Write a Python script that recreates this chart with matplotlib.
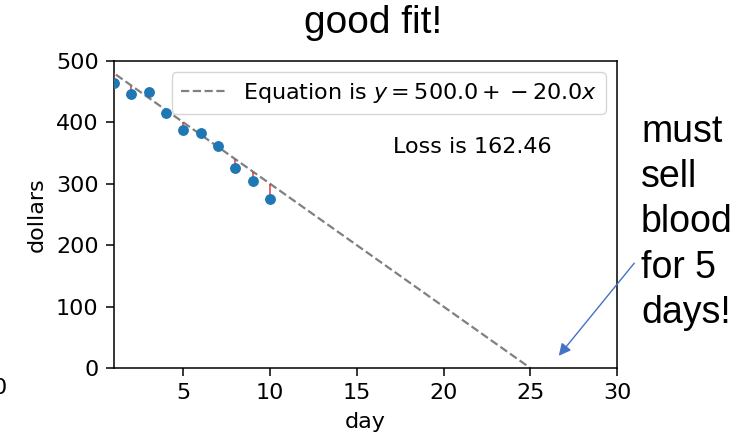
import matplotlib
matplotlib.use("Agg")
import matplotlib.pyplot as plt
import numpy as np

days = [1, 2, 3, 4, 5, 6, 7, 8, 9, 10]
dollars = [464, 446, 450, 416, 387, 382, 362, 326, 305, 275]
intercept = 500.0
slope = -20.0
loss_value = 162.46
title_text = "good fit!"
side_note = "must\nsell\nblood\nfor 5\ndays!"
xticks = [5, 10, 15, 20, 25, 30]
yticks = [0, 100, 200, 300, 400, 500]

S = 1.6
plt.rcParams['font.size'] = 10 * S

fig = plt.figure(figsize=(7.51, 4.37), dpi=100)
ax = fig.add_axes([114/751, 1 - 368/437, (617-114)/751, (368-61)/437])

x = np.array(days)
y = np.array(dollars)
pred = intercept + slope * x

line_x = np.array([0, -intercept / slope])
ax.plot(line_x, intercept + slope * line_x, '--', color='gray', lw=1.6,
        label=f"Equation is $y = {intercept} + {slope}x$", zorder=2)
ax.vlines(x, y, pred, color='tab:red', alpha=0.7, lw=1.4, zorder=3)
ax.scatter(x, y, s=46, color='tab:blue', zorder=4)

ax.set_xlim(1, 30)
ax.set_ylim(0, 500)
ax.set_xticks(xticks)
ax.set_yticks(yticks)
ax.set_xlabel("day", labelpad=4 * S)
ax.set_ylabel("dollars", labelpad=4 * S)
for sp in ax.spines.values():
    sp.set_linewidth(1.1)
ax.tick_params(width=1.1, length=5.5, pad=3.5 * S)
ax.legend(loc='upper right', handlelength=2.0, borderaxespad=0.5)
ax.text(0.712, 0.72, f"Loss is {loss_value}", transform=ax.transAxes,
        ha='center', va='center')

fig.text(373/751, 1 - 33/437, title_text, ha='center', va='baseline',
         fontsize=28, family=['Liberation Sans', 'DejaVu Sans'])
fig.text(641/751, 1 - 114/437, side_note, ha='left', va='top',
         fontsize=27, family=['Liberation Sans', 'DejaVu Sans'], linespacing=1.33)
fig.text(7/751, 1 - 388/437, "0", ha='right', va='center')

fig.patches.append(matplotlib.patches.FancyArrowPatch(
    (636/751, 1 - 261/437), (557/751, 1 - 358/437), transform=fig.transFigure,
    arrowstyle='-|>', mutation_scale=18, color='#4472C4', lw=1.0))

fig.savefig("out.png", dpi=100)
